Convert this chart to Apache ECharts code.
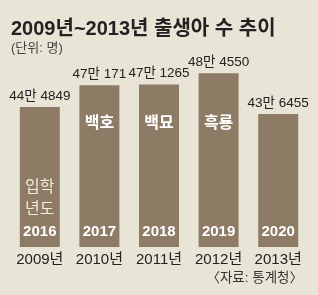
<!DOCTYPE html>
<html><head><meta charset="utf-8">
<script src="https://cdn.jsdelivr.net/npm/echarts@6/dist/echarts.min.js"></script>
<style>html,body{margin:0;padding:0;background:#e9e5d6;}#c{width:318px;height:295px;}</style>
</head><body><div id="c"></div>
<script>
const categories = ['2009년', '2010년', '2011년', '2012년', '2013년'];
const births = [444849, 470171, 471265, 484550, 436455];
const valueLabels = ['44만 4849', '47만 171', '47만 1265', '48만 4550', '43만 6455'];
const zodiacTags = ['', '백호', '백묘', '흑룡', ''];
const entryYears = ['2016', '2017', '2018', '2019', '2020'];

const FONT = '"Liberation Sans", "Noto Sans CJK KR", sans-serif';
const chart = echarts.init(document.getElementById('c'));
chart.setOption({
  backgroundColor: '#e9e5d6',
  title: [
    { text: '2009년~2013년 출생아 수 추이', left: 6, top: 14,
      textStyle: { fontFamily: FONT, fontSize: 20, fontWeight: 'bold', color: '#222' },
      subtext: '(단위: 명)', itemGap: 3,
      subtextStyle: { fontFamily: FONT, fontSize: 13, color: '#444' } },
    { text: '〈자료: 통계청〉', right: 10, bottom: 5,
      textStyle: { fontFamily: FONT, fontSize: 13.5, fontWeight: 'normal', color: '#333' } }
  ],
  grid: { left: 10, right: 10, top: 60, bottom: 48 },
  xAxis: { type: 'category', data: categories,
    axisLine: { show: false }, axisTick: { show: false },
    axisLabel: { interval: 0, fontFamily: FONT, fontSize: 15, color: '#222', margin: 5 } },
  yAxis: { type: 'value', min: 280000, max: 500000, show: false, splitLine: { show: false } },
  series: [
    { type: 'bar', data: births, barWidth: 40, itemStyle: { color: '#8e7b66' },
      label: { show: true, position: 'top', distance: 4,
        formatter: p => valueLabels[p.dataIndex],
        fontFamily: FONT, fontSize: 13.5, color: '#222' } },
    { type: 'bar', data: births, barWidth: 40, barGap: '-100%', itemStyle: { color: 'transparent' },
      silent: true,
      label: { show: true, position: 'insideBottom', distance: 4,
        formatter: p => {
          const i = p.dataIndex;
          if (i === 0) return '{light|입학}\n{light|년도}\n{yr|' + entryYears[i] + '}';
          if (zodiacTags[i]) return '{tag|' + zodiacTags[i] + '}\n{gap| }\n{yr|' + entryYears[i] + '}';
          return '{yr|' + entryYears[i] + '}';
        },
        rich: {
          light: { fontFamily: FONT, fontSize: 16, color: '#f3ecdc', lineHeight: 22 },
          tag: { fontFamily: FONT, fontSize: 16, fontWeight: 'bold', color: '#fff', lineHeight: 22 },
          gap: { fontSize: 10, lineHeight: 86 },
          yr: { fontFamily: FONT, fontSize: 15, fontWeight: 'bold', color: '#fff', lineHeight: 22 }
        } } }
  ]
});
</script></body></html>
